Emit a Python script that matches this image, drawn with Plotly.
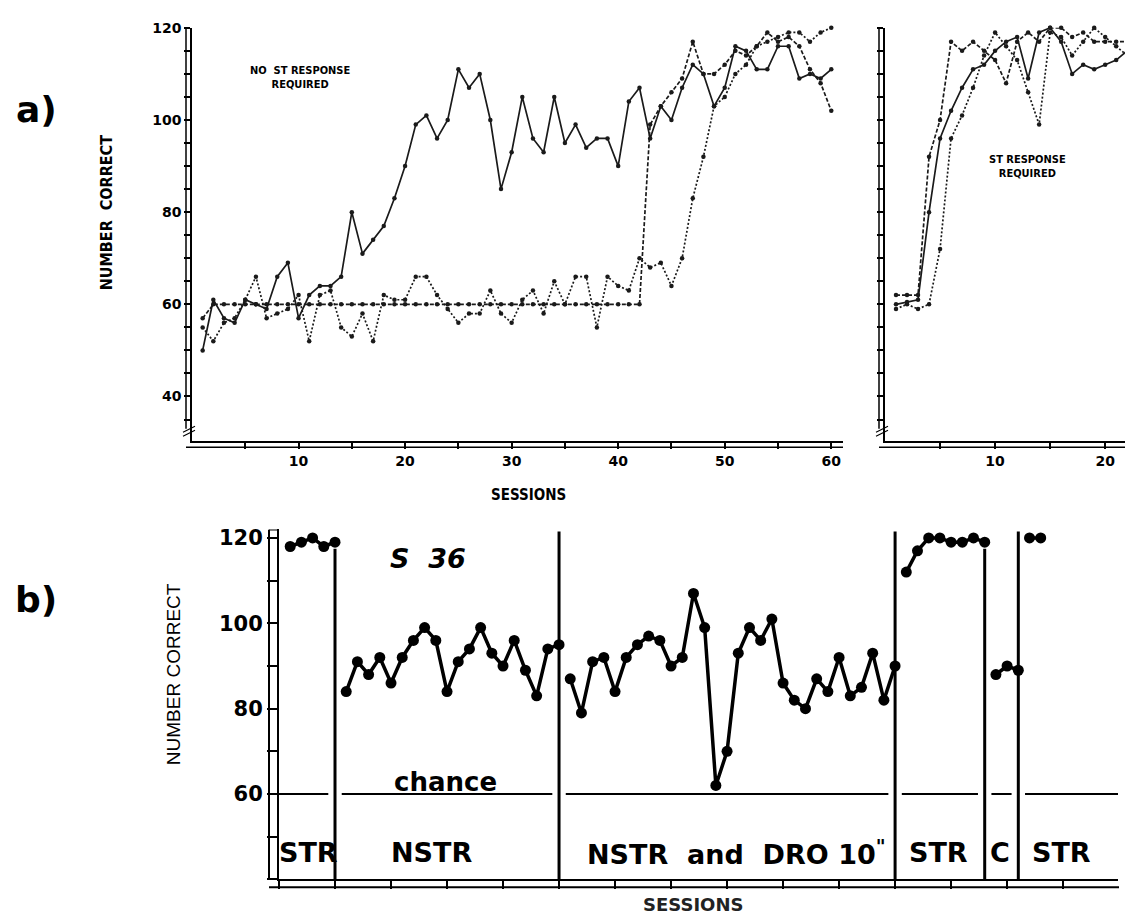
import plotly.graph_objects as go

W, H = 1125, 920

# ---------------- data: panel a (left) "NO ST RESPONSE REQUIRED" ----------------
a1_sessions = list(range(1, 61))
a1_solid = [50, 61, 57, 56, 61, 60, 59, 66, 69, 57, 62, 64, 64, 66, 80, 71, 74, 77, 83, 90,
            99, 101, 96, 100, 111, 107, 110, 100, 85, 93, 105, 96, 93, 105, 95, 99, 94, 96, 96, 90,
            104, 107, 96, 103, 100, 107, 112, 110, 103, 107, 116, 115, 111, 111, 116, 116, 109, 110, 109, 111]
a1_dashed = [57] + [60] * 41 + [99, 103, 106, 109, 117, 110, 110, 112, 115, 114, 116, 119, 117, 118,
                                116, 111, 108, 102]
a1_dotted = [55, 52, 56, 57, 61, 66, 57, 58, 59, 62, 52, 62, 63, 55, 53, 58, 52, 62, 61, 61,
             66, 66, 62, 59, 56, 58, 58, 63, 58, 56, 61, 63, 58, 65, 60, 66, 66, 55, 66, 64,
             63, 70, 68, 69, 64, 70, 83, 92, 103, 105, 110, 112, 116, 117, 118, 119, 119, 117, 119, 120]

# ---------------- data: panel a (right) "ST RESPONSE REQUIRED" ----------------
a2_sessions = list(range(1, 23))
a2_solid = [60, 60.5, 61, 80, 96, 102, 107, 111, 112, 115, 117, 118, 109, 119, 120, 117, 110, 112, 111, 112, 113, 115]
a2_dashed = [62, 62, 62, 92, 100, 117, 115, 117, 115, 113, 108, 117, 119, 117, 120, 120, 118, 119, 117, 117, 117, 117]
a2_dotted = [59, 60, 59, 60, 72, 96, 101, 107, 114, 119, 116, 113, 106, 99, 119, 118, 114, 117, 120, 118, 116, 114]

# ---------------- data: panel b (S 36) ----------------
b_phase_labels = ["STR", "NSTR", "NSTR  and  DRO 10<sup>\"</sup>", "STR", "C", "STR"]
b_phase_sessions = [list(range(1, 6)), list(range(6, 26)), list(range(26, 56)),
                    list(range(56, 64)), list(range(64, 67)), list(range(67, 69))]
b_phase_values = [
    [118, 119, 120, 118, 119],
    [84, 91, 88, 92, 86, 92, 96, 99, 96, 84, 91, 94, 99, 93, 90, 96, 89, 83, 94, 95],
    [87, 79, 91, 92, 84, 92, 95, 97, 96, 90, 92, 107, 99, 62, 70, 93, 99, 96, 101, 86,
     82, 80, 87, 84, 92, 83, 85, 93, 82, 90],
    [112, 117, 120, 120, 119, 119, 120, 119],
    [88, 90, 89],
    [120, 120],
]
b_boundaries = [5, 25, 55, 63, 66]
chance_level = 60

a_y_labels = [40, 60, 80, 100, 120]
a_y_rungs = list(range(35, 121, 5))
a1_x_labels = [10, 20, 30, 40, 50, 60]
a2_x_labels = [10, 20]
a_x_rungs = list(range(5, 61, 5))
b_y_labels = [60, 80, 100, 120]
b_y_rungs = list(range(40, 121, 10))
b_x_rungs = list(range(0, 76, 5))

# ---------------- styling helpers ----------------
def px(x):
    return x / W


def py(y):
    return 1 - y / H


INK = "#1a1a1a"
BOLD = "DejaVu Sans"
COND = "DejaVu Sans Condensed, DejaVu Sans"

fig = go.Figure()

for ys, dash in ((a1_solid, "solid"), (a1_dashed, "4px,2px"), (a1_dotted, "2px,2px")):
    fig.add_trace(go.Scatter(x=a1_sessions, y=ys, mode="lines+markers", xaxis="x", yaxis="y",
                             line=dict(color=INK, width=1.7, dash=dash),
                             marker=dict(size=4.5, color=INK), cliponaxis=False,
                             showlegend=False, hoverinfo="skip"))
for ys, dash in ((a2_solid, "solid"), (a2_dashed, "4px,2px"), (a2_dotted, "2px,2px")):
    fig.add_trace(go.Scatter(x=a2_sessions, y=ys, mode="lines+markers", xaxis="x2", yaxis="y2",
                             line=dict(color=INK, width=1.7, dash=dash),
                             marker=dict(size=4.5, color=INK), cliponaxis=False,
                             showlegend=False, hoverinfo="skip"))
for xs, ys in zip(b_phase_sessions, b_phase_values):
    fig.add_trace(go.Scatter(x=xs, y=ys, mode="lines+markers", xaxis="x3", yaxis="y3",
                             line=dict(color="black", width=3.5),
                             marker=dict(size=11, color="black"), cliponaxis=False,
                             showlegend=False, hoverinfo="skip"))

base_axis = dict(showgrid=False, zeroline=False, showline=True, linecolor="black",
                 ticks="outside", tickcolor="black", fixedrange=True, tickmode="array")

a_tick_font = dict(family=BOLD, size=14, color="black", weight="bold")
b_tick_font = dict(family=BOLD, size=21, color="black", weight="bold")


def rungs(vals, length, width):
    return dict(tickmode="array", tickvals=vals, ticks="outside", ticklen=length,
                tickwidth=width, tickcolor="black", showgrid=False)


fig.update_layout(
    width=W, height=H, margin=dict(l=0, r=0, t=0, b=0),
    paper_bgcolor="white", plot_bgcolor="white",
    xaxis=dict(base_axis, domain=[px(192), px(843)], range=[0, 61.1], anchor="y",
               tickvals=a1_x_labels, linewidth=1.5, tickwidth=1.5, ticklen=6,
               tickfont=a_tick_font, minor=rungs(a_x_rungs, 6, 1.5)),
    yaxis=dict(base_axis, domain=[py(437), py(20)], range=[30.3, 120], anchor="x",
               tickvals=a_y_labels, linewidth=1.5, tickwidth=1.5, ticklen=6,
               tickfont=a_tick_font, minor=rungs(a_y_rungs, 6, 1.5)),
    xaxis2=dict(base_axis, domain=[px(885), 1.0], range=[0, 21.8], anchor="y2",
                tickvals=a2_x_labels, linewidth=1.5, tickwidth=1.5, ticklen=6,
                tickfont=a_tick_font, minor=rungs(a_x_rungs, 6, 1.5)),
    yaxis2=dict(base_axis, domain=[py(437), py(20)], range=[30.3, 120], anchor="x2",
                tickvals=a_y_rungs, showticklabels=False, linewidth=1.5, tickwidth=1.5,
                ticklen=6),
    xaxis3=dict(base_axis, domain=[px(279), px(1118)], range=[0, 74.9], anchor="y3",
                tickvals=b_x_rungs, showticklabels=False, linewidth=2, tickwidth=2, ticklen=8),
    yaxis3=dict(base_axis, domain=[py(879), py(526)], range=[40, 122], anchor="x3",
                tickvals=b_y_labels, linewidth=2, tickwidth=2, ticklen=10,
                tickfont=b_tick_font, minor=rungs(b_y_rungs, 10, 2)),
)

shapes = []
# ladder outer rails
shapes.append(dict(type="line", xref="paper", yref="y", x0=px(186), x1=px(186), y0=33, y1=120,
                   line=dict(color="black", width=1.5)))
shapes.append(dict(type="line", xref="paper", yref="paper", x0=px(186), x1=px(843), y0=py(443), y1=py(443),
                   line=dict(color="black", width=1.5)))
shapes.append(dict(type="line", xref="paper", yref="y2", x0=px(879), x1=px(879), y0=33, y1=120,
                   line=dict(color="black", width=1.5)))
shapes.append(dict(type="line", xref="paper", yref="paper", x0=px(879), x1=1.0, y0=py(443), y1=py(443),
                   line=dict(color="black", width=1.5)))
shapes.append(dict(type="line", xref="paper", yref="y3", x0=px(269), x1=px(269), y0=40, y1=122,
                   line=dict(color="black", width=2)))
shapes.append(dict(type="line", xref="paper", yref="y3", x0=px(269), x1=px(279), y0=122, y1=122,
                   line=dict(color="black", width=2)))
shapes.append(dict(type="line", xref="paper", yref="paper", x0=px(269), x1=px(1119), y0=py(887), y1=py(887),
                   line=dict(color="black", width=2)))

# axis-break marks on the panel a ladders (two short slanted strokes each)
for rail_x in (186, 879):
    for dy in (0, 4):
        shapes.append(dict(type="line", xref="paper", yref="paper",
                           x0=px(rail_x - 3), x1=px(rail_x + 9),
                           y0=py(428 + dy), y1=py(422 + dy),
                           line=dict(color="black", width=1.2)))

# phase boundary lines (panel b)
line_tops = [117.5, 121.5, 121.5, 117.5, 121.5]
for bnd, top in zip(b_boundaries, line_tops):
    shapes.append(dict(type="line", xref="x3", yref="y3", x0=bnd, x1=bnd, y0=40, y1=top,
                       line=dict(color="black", width=3)))

# chance line segments, broken around each boundary
gap = 0.6
edges = [-0.7] + b_boundaries + [74.9]
for i in range(len(edges) - 1):
    x0 = edges[i] + (gap if i > 0 else 0)
    x1 = edges[i + 1] - (gap if i < len(edges) - 2 else 0)
    shapes.append(dict(type="line", xref="x3", yref="y3", x0=x0, x1=x1, y0=chance_level, y1=chance_level,
                       line=dict(color="black", width=2)))

fig.update_layout(shapes=shapes)


def pann(x, y, text, size, family=BOLD, angle=0, color="black"):
    return dict(xref="paper", yref="paper", x=px(x), y=py(y), text=text, showarrow=False,
                xanchor="center", yanchor="middle", textangle=angle, align="center",
                font=dict(family=family, size=size, color=color))


ann = []
ann.append(pann(36, 102, "<b>a)</b>", 36))
ann.append(pann(36, 597, "<b>b)</b>", 36))
ann.append(pann(106, 207, "<b>NUMBER  CORRECT</b>", 16, COND, -90))
ann.append(pann(528, 491, "<b>SESSIONS</b>", 15, COND))
ann.append(pann(300, 70, "<b>NO  ST RESPONSE<br>REQUIRED</b>", 11, COND))
ann.append(pann(1027, 160, "<b>ST RESPONSE<br>REQUIRED</b>", 11, COND))
# panel b texts
ann.append(pann(173, 672, "NUMBER CORRECT", 19, "Liberation Sans", -90))
ann.append(pann(693, 904, "<b>SESSIONS</b>", 18, BOLD, 0, "#222"))
ann.append(dict(xref="x3", yref="y3", x=13.3, y=115.3, text="<b><i>S  36</i></b>", showarrow=False,
                xanchor="center", yanchor="middle", font=dict(family=BOLD, size=27, color="black")))
ann.append(dict(xref="x3", yref="y3", x=14.9, y=62.8, text="<b>chance</b>", showarrow=False,
                xanchor="center", yanchor="middle", font=dict(family=BOLD, size=26, color="black")))
b_label_at = [2.6, 13.6, 40.8, 58.9, 64.4, 69.9]
for lab, xpos in zip(b_phase_labels, b_label_at):
    ann.append(dict(xref="x3", yref="y3", x=xpos, y=46.3, text="<b>" + lab + "</b>", showarrow=False,
                    xanchor="center", yanchor="middle", font=dict(family=BOLD, size=27, color="black")))

fig.update_layout(annotations=ann)

fig.write_html("out.html", config={"displayModeBar": False},
               post_script="document.body.style.margin='0px';document.body.style.overflow='hidden';")
